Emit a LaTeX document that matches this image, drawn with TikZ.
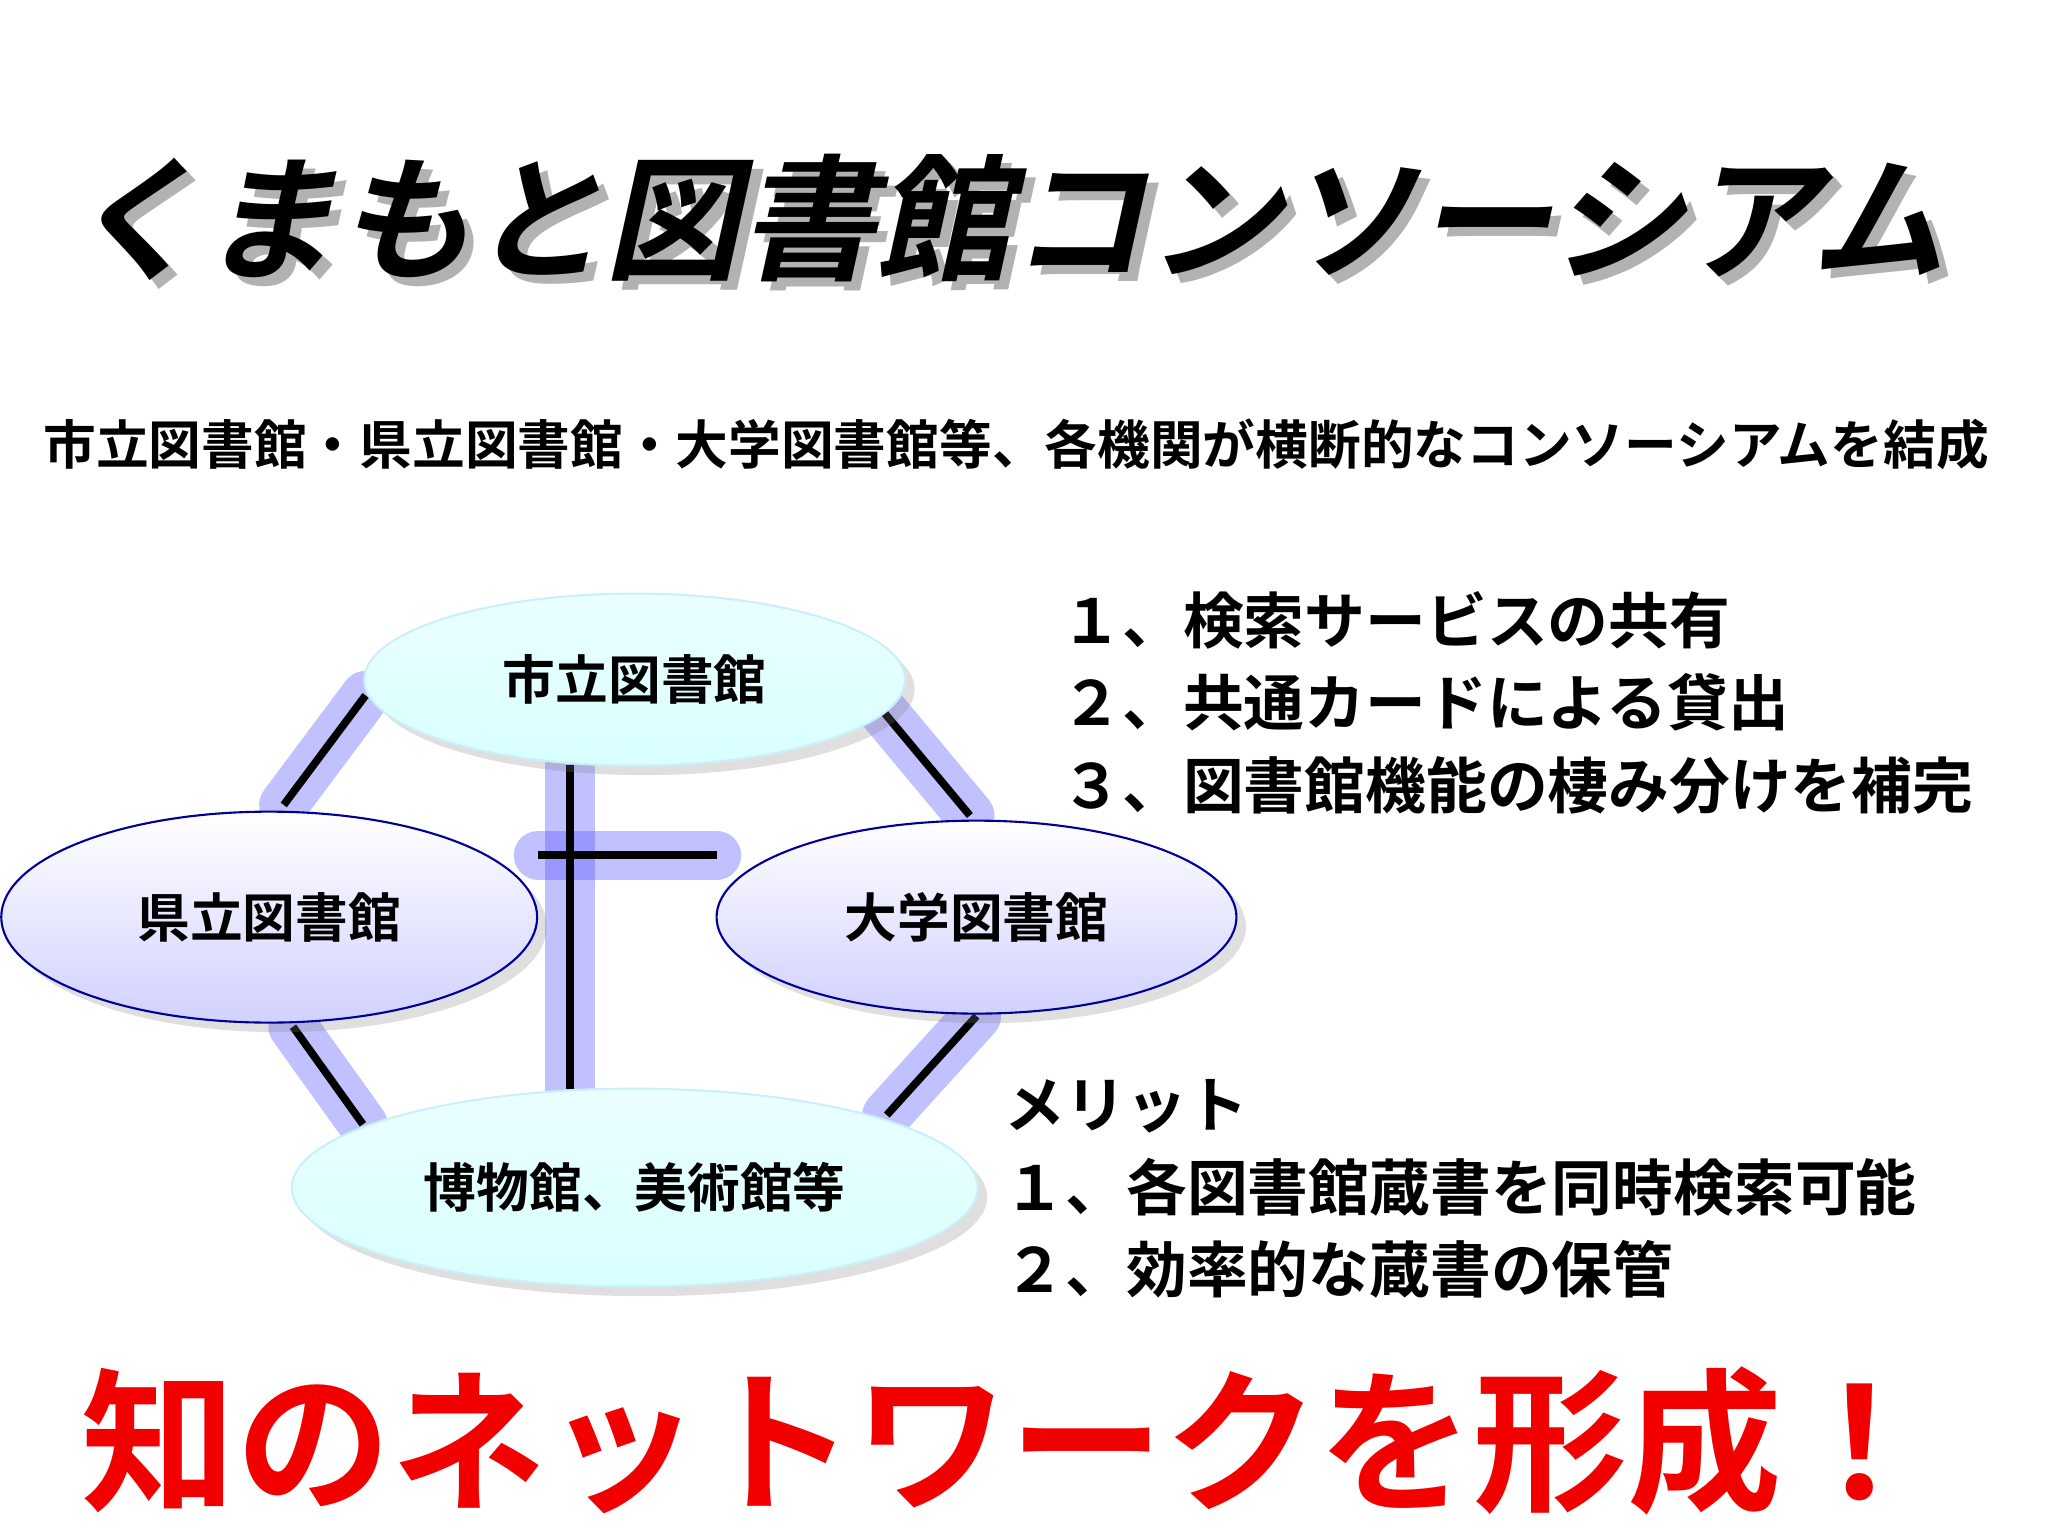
\documentclass[tikz,border=0pt]{standalone}
\usepackage{fontspec}
\setmainfont{Noto Sans CJK JP}[BoldFont={Noto Sans CJK JP Bold}]
\usetikzlibrary{shapes.geometric,shadows}
\begin{document}
\begin{tikzpicture}[x=0.0132cm,y=-0.0132cm,
  lib/.style={ellipse,draw=blue!60!black,line width=0.6pt,font=\bfseries\fontsize{15}{18}\selectfont,drop shadow={opacity=0.25}},
  cyanlib/.style={lib,draw=cyan!20,top color=cyan!8,bottom color=cyan!15},
  lavlib/.style={lib,top color=white,bottom color=blue!18},
  glow/.style={line width=14pt,draw=blue!70,opacity=0.35,line cap=round},
  link/.style={line width=2.2pt,draw=black},
  listtxt/.style={anchor=west,font=\bfseries\fontsize{17.3}{21}\selectfont}]
\useasboundingbox (0,0) rectangle (1552,1164);
\node[gray!60,xslant=0.22] (tshadow) at (778,172) {\fontsize{38.5}{46}\selectfont\bfseries くまもと図書館コンソーシアム};
\node[xslant=0.22] (title) at (771,165) {\fontsize{38.5}{46}\selectfont\bfseries くまもと図書館コンソーシアム};
\node (sub) at (770,337) {\fontsize{15}{18}\selectfont\bfseries 市立図書館・県立図書館・大学図書館等、各機関が横断的なコンソーシアムを結成};
% connectors
\coordinate (a1) at (277,527); \coordinate (a2) at (215,610);
\coordinate (b1) at (670,540); \coordinate (b2) at (735,618);
\coordinate (c1) at (222,778); \coordinate (c2) at (275,852);
\coordinate (d1) at (740,770); \coordinate (d2) at (672,845);
\coordinate (v1) at (432,580); \coordinate (v2) at (432,825);
\coordinate (h1) at (408,648); \coordinate (h2) at (543,648);
\foreach \p/\q in {a1/a2,b1/b2,c1/c2,d1/d2,v1/v2,h1/h2} \draw[glow] (\p)--(\q);
\foreach \p/\q in {a1/a2,b1/b2,c1/c2,d1/d2,v1/v2,h1/h2} \draw[link] (\p)--(\q);
\node[cyanlib,minimum width=5.41cm,minimum height=1.72cm] (city) at (481,515) {市立図書館};
\node[lavlib,minimum width=5.36cm,minimum height=2.11cm] (pref) at (204,695) {県立図書館};
\node[lavlib,minimum width=5.20cm,minimum height=1.93cm] (univ) at (740,695) {大学図書館};
\node[cyanlib,minimum width=6.86cm,minimum height=1.98cm] (mus) at (481,900) {博物館、美術館等};
\node[listtxt] (l1) at (795,470) {１、検索サービスの共有};
\node[listtxt] (l2) at (795,532) {２、共通カードによる貸出};
\node[listtxt] (l3) at (795,595) {３、図書館機能の棲み分けを補完};
\node[listtxt] (m0) at (752,838) {メリット};
\node[listtxt] (m1) at (752,900) {１、各図書館蔵書を同時検索可能};
\node[listtxt] (m2) at (752,962) {２、効率的な蔵書の保管};
\node[red!95!black] (slogan) at (765,1092) {\fontsize{44}{50}\selectfont\bfseries 知のネットワークを形成！};
\end{tikzpicture}
\end{document}
